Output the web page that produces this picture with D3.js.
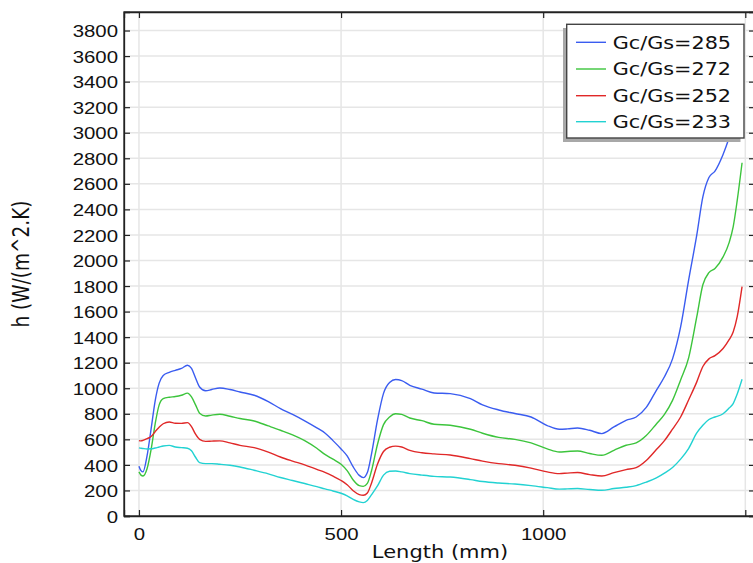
<!DOCTYPE html>
<html><head><meta charset="utf-8">
<script src="https://cdn.jsdelivr.net/npm/d3@7/dist/d3.min.js"></script>
<style>
html,body{margin:0;padding:0;background:#fff;overflow:hidden;}
svg{display:block;font-family:"DejaVu Sans",Verdana,sans-serif;}
</style></head>
<body><svg id="chart" width="753" height="563"></svg>
<script>
const lengths = [0,5,10,20,30,40,50,60,75,90,105,120,130,140,150,165,180,200,225,250,285,320,350,380,410,440,460,480,500,515,530,545,555,565,575,590,605,620,635,650,670,700,730,770,820,850,890,930,970,1010,1040,1060,1085,1115,1145,1175,1205,1230,1255,1280,1300,1320,1340,1360,1380,1395,1410,1425,1445,1460,1470,1480,1492];
const h285 = [390,355,345,470,680,900,1040,1100,1125,1140,1155,1180,1155,1080,1010,980,990,1002,990,971,945,895,841,795,745,690,650,590,525,470,384,318,300,340,480,750,960,1045,1068,1060,1023,993,963,958,919,870,830,802,775,708,679,682,689,671,645,697,749,775,850,984,1090,1230,1480,1850,2200,2498,2650,2700,2830,2960,3060,3160,3280];
const h272 = [345,320,313,370,520,720,870,918,930,935,945,962,932,870,805,783,790,796,781,763,744,705,671,635,590,530,482,445,405,355,282,238,232,255,350,560,715,775,800,795,767,746,718,710,679,648,615,600,572,525,501,505,509,489,475,514,554,572,630,720,795,905,1065,1240,1560,1810,1905,1937,2028,2140,2263,2470,2765];
const h252 = [590,588,592,605,622,660,695,722,736,726,725,731,700,640,600,584,586,588,572,553,535,500,462,430,400,365,342,312,278,245,198,168,162,180,255,405,505,538,547,540,514,495,486,477,449,430,410,397,375,345,332,336,340,324,313,340,363,379,435,520,590,680,775,910,1050,1170,1230,1255,1311,1380,1440,1560,1795];
const h233 = [533,530,528,525,526,532,540,548,553,540,535,530,510,460,418,410,410,405,397,384,358,330,301,278,254,230,212,196,178,158,130,110,105,122,165,235,320,350,352,345,332,320,310,305,285,270,258,250,238,222,210,212,215,207,201,215,225,238,265,298,335,380,445,530,650,710,755,775,800,845,880,955,1070];
const seriesNames = ["Gc/Gs=285","Gc/Gs=272","Gc/Gs=252","Gc/Gs=233"];
const seriesColors = ["#3a5cf0","#3cc43c","#e02828","#22d2d2"];
const seriesValues = [h285,h272,h252,h233];
const yTicks = d3.range(0,3801,200);
const xTicks = [0,500,1000,1500];
const xLabels = ["0","500","1000",""];

const L=124, T=12, R=755, B=516;
const SX=1.2;
const svg = d3.select("#chart");
const x = d3.scaleLinear().domain([-37,1524]).range([L,R]);
const y = d3.scaleLinear().domain([0,3945]).range([B,T]);

// grid
const g = svg.append("g");
g.selectAll(".gy").data(yTicks).join("line")
  .attr("x1",L).attr("x2",R).attr("y1",d=>y(d)).attr("y2",d=>y(d))
  .attr("stroke","#e6e6e6").attr("stroke-width",1.5);
g.selectAll(".gx").data(xTicks).join("line")
  .attr("y1",T).attr("y2",B).attr("x1",d=>x(d)).attr("x2",d=>x(d))
  .attr("stroke","#e6e6e6").attr("stroke-width",1.5);

// clip
svg.append("clipPath").attr("id","clip").append("rect")
  .attr("x",L).attr("y",T).attr("width",R-L).attr("height",B-T);

const line = d3.line().x((d,i)=>x(lengths[i])).y(d=>y(d)).curve(d3.curveMonotoneX);
svg.append("g").attr("clip-path","url(#clip)").selectAll("path").data(seriesValues).join("path")
  .attr("d",d=>line(d)).attr("fill","none")
  .attr("stroke",(d,i)=>seriesColors[i]).attr("stroke-width",1.4);

// frame
svg.append("rect").attr("x",L).attr("y",T).attr("width",R-L).attr("height",B-T)
  .attr("fill","none").attr("stroke","#222").attr("stroke-width",1.3);

// axes
const axL = svg.append("g").attr("transform",`translate(${L},0)`)
  .call(d3.axisLeft(y).tickValues(yTicks).tickSize(-6).tickPadding(6).tickFormat(d3.format("d")));
const axB = svg.append("g").attr("transform",`translate(0,${B})`)
  .call(d3.axisBottom(x).tickValues(xTicks).tickSize(-6).tickFormat((d,i)=>xLabels[i]));
svg.append("g").attr("transform",`translate(${R},0)`)
  .call(d3.axisRight(y).tickValues(yTicks).tickSize(-6).tickFormat(""));
svg.append("g").attr("transform",`translate(0,${T})`)
  .call(d3.axisTop(x).tickValues(xTicks).tickSize(-6).tickFormat(""));
svg.selectAll(".domain").attr("stroke","#222").attr("stroke-width",1.3);
svg.selectAll(".tick line").attr("stroke","#222").attr("stroke-width",1.2);
axL.selectAll("text").attr("font-size",17).attr("fill","#111")
  .attr("x",-6/SX).attr("dy","0.36em").attr("transform",`scale(${SX},1)`);
axB.selectAll("text").attr("font-size",17).attr("fill","#111")
  .attr("y",24).attr("dy",0).attr("transform",`scale(${SX},1)`);

// titles
svg.append("text").attr("transform",`translate(440,558) scale(${SX},1)`)
  .attr("text-anchor","middle").attr("font-size",17.5).attr("fill","#111").text("Length (mm)");
svg.append("text").attr("transform",`translate(29,264) rotate(-90) scale(1,${SX})`)
  .attr("text-anchor","middle").attr("font-size",18.5).attr("fill","#111").text("h (W/(m^2.K)");

// legend
const lg = svg.append("g");
lg.append("rect").attr("x",563).attr("y",28).attr("width",177.5).attr("height",114)
  .attr("fill","#a8a8a8");
lg.append("rect").attr("x",566.7).attr("y",24.3).attr("width",177.3).attr("height",113.7)
  .attr("fill","#fff").attr("stroke","#444").attr("stroke-width",1.4);
const rowsY = [42.3,69,95.7,121.7];
seriesNames.forEach((n,i)=>{
  lg.append("line").attr("x1",576).attr("x2",606).attr("y1",rowsY[i]).attr("y2",rowsY[i])
    .attr("stroke",seriesColors[i]).attr("stroke-width",1.4);
  lg.append("text").attr("transform",`translate(612.7,${rowsY[i]+6.3}) scale(${SX},1)`)
    .attr("font-size",17.3).attr("fill","#111").text(n);
});
</script></body></html>
